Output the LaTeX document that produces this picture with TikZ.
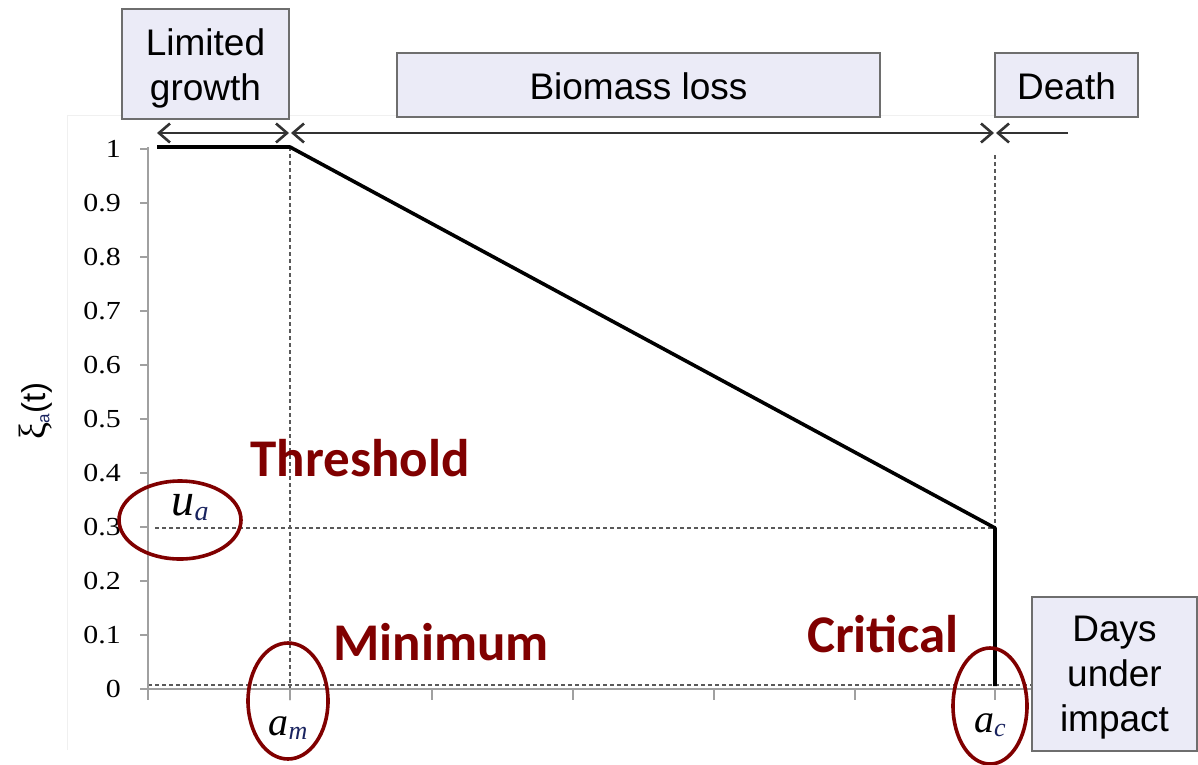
\documentclass[tikz,border=0pt]{standalone}
\usepackage{fontspec}
\setmainfont{Liberation Serif}
\newfontfamily\boxfont{Liberation Sans}
\newfontfamily\notefont{Carlito}
\usetikzlibrary{arrows.meta}

\definecolor{boxfill}{RGB}{235,235,247}
\definecolor{boxedge}{RGB}{110,110,110}
\definecolor{notered}{RGB}{128,0,0}
\definecolor{axisgray}{RGB}{160,160,160}
\definecolor{subblue}{RGB}{25,35,95}

\tikzset{phasetip/.tip={Straight Barb[length=11pt,width=19pt,line width=2.6pt]}}

\begin{document}
\begin{tikzpicture}[x=1pt,y=-1pt,
  phasebox/.style={draw=boxedge,line width=2pt,fill=boxfill,inner sep=0pt},
  boxtext/.style={inner sep=0pt,align=center,font=\boxfont\fontsize{37}{45}\selectfont},
  note/.style={text=notered,anchor=base,font=\notefont\bfseries\fontsize{53}{60}\selectfont},
  ticklabel/.style={anchor=east,inner sep=0pt,font=\fontsize{26}{26}\selectfont},
  axisline/.style={draw=axisgray,line width=1.6pt},
  guide/.style={draw=black!65,line width=1.3pt,dash pattern=on 4pt off 3pt},
  curve/.style={draw=black,line width=3.6pt,line join=round},
  span/.style={draw=black!80,line width=1.4pt,phasetip-phasetip},
  halfspan/.style={draw=black!80,line width=1.4pt,-phasetip},
  ring/.style={draw=notered,line width=3.6pt},
  varlabel/.style={inner sep=0pt,anchor=base,font=\itshape\fontsize{40}{40}\selectfont}
]
\useasboundingbox (0,0) rectangle (1198,764);

% faint chart-area border
\draw[black!6,line width=1pt] (67,750) -- (67,115) -- (1032,115);

% phase boxes
\node[phasebox,minimum width=167pt,minimum height=110pt] (limited) at (205.5,64) {};
\node[boxtext] (limitedText) at ([yshift=-4pt]limited.center) {Limited\\growth};
\node[phasebox,minimum width=483pt,minimum height=64pt] (biomass) at (638.5,85) {};
\node[boxtext] (biomassText) at ([yshift=-1pt]biomass.center) {Biomass loss};
\node[phasebox,minimum width=143pt,minimum height=64pt] (death) at (1066.5,85) {};
\node[boxtext] (deathText) at ([yshift=-1pt]death.center) {Death};

% phase extents
\coordinate (pA) at (157,133);
\coordinate (pB) at (289,133);
\coordinate (pC) at (291,133);
\coordinate (pD) at (994,133);
\coordinate (pE) at (996,133);
\coordinate (pF) at (1068,133);
\draw[span] (pA) -- (pB);
\draw[span] (pC) -- (pD);
\draw[halfspan] (pF) -- (pE);

% guide lines
\coordinate (amTop) at (290,147);
\coordinate (amBot) at (290,700);
\coordinate (thL) at (155,528);
\coordinate (thR) at (995,528);
\coordinate (acTop) at (995,155);
\coordinate (zeroL) at (148,685);
\coordinate (zeroR) at (1032,685);
\draw[guide] (amTop) -- (amBot);
\draw[guide] (thL) -- (thR);
\draw[guide] (acTop) -- (thR);
\draw[guide] (zeroL) -- (zeroR);

% axes
\coordinate (yTop) at (148,147);
\coordinate (yBot) at (148,700);
\coordinate (xL) at (140,689);
\coordinate (xR) at (1032,689);
\draw[axisline] (yTop) -- (yBot);
\draw[axisline] (xL) -- (xR);
\foreach \v/\lab in {0/0,1/0.1,2/0.2,3/0.3,4/0.4,5/0.5,6/0.6,7/0.7,8/0.8,9/0.9,10/1}{
  \pgfmathsetmacro{\yy}{689-54*\v}
  \draw[axisline] (140,\yy) -- (148,\yy);
  \node[ticklabel] (tick\v) at (121,\yy) {\scalebox{1.15}[1]{\lab}};
}
\foreach \xx in {290,432,573,714,855,995}{
  \draw[axisline] (\xx,689) -- (\xx,700);
}

% y-axis title
\node[rotate=90,inner sep=0pt] (ytitle) at (36,411)
  {\fontsize{38}{38}\selectfont ξ\kern-1pt{\boxfont\fontsize{17}{17}\selectfont\raisebox{-0.2em}{\textcolor{subblue}{a}}}\kern1pt{\boxfont\fontsize{33}{33}\selectfont(t)}};

% response curve
\coordinate (c0) at (157,147);
\coordinate (c1) at (290,147);
\coordinate (c2) at (995,528);
\coordinate (c3) at (995,686);
\draw[curve] (c0) -- (c1) -- (c2) -- (c3);

% variable labels and rings
\node[varlabel,font=\itshape\fontsize{46}{46}\selectfont] (ua) at (190,515)
  {u\raisebox{-0.12em}{\textcolor{subblue}{\fontsize{28}{28}\selectfont a}}};
\node[varlabel] (am) at (288,735)
  {a\raisebox{-0.12em}{\textcolor{subblue}{\fontsize{26}{26}\selectfont m}}};
\node[varlabel] (ac) at (990,732)
  {a\raisebox{-0.12em}{\textcolor{subblue}{\fontsize{26}{26}\selectfont c}}};
\draw[ring] (180,520) ellipse [x radius=61pt,y radius=39pt];
\draw[ring] (288,701) ellipse [x radius=40pt,y radius=58pt];
\draw[ring] (990,706) ellipse [x radius=37pt,y radius=58pt];

% annotations
\node[note] (threshold) at (360,476) {Threshold};
\node[note] (minimum) at (441,660) {Minimum};
\node[note] (critical) at (883,652) {Critical};

% x-axis title box
\node[phasebox,minimum width=165pt,minimum height=154pt] (days) at (1114.5,674) {};
\node[boxtext] (daysText) at ([yshift=-4pt]days.center) {Days\\under\\impact};
\end{tikzpicture}
\end{document}
